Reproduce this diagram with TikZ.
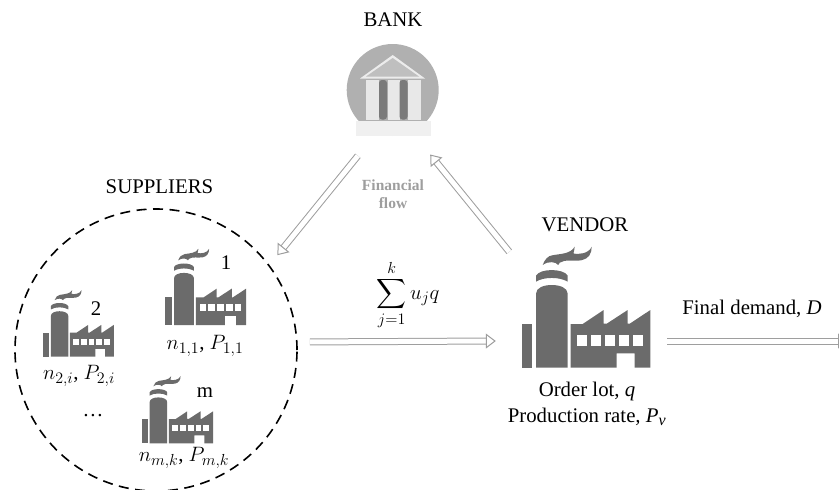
\documentclass[tikz,border=0pt]{standalone}
\usepackage{fix-cm}
\usepackage{amsmath}
\usepackage{exscale}
\usepackage{fontspec}
\setmainfont{Liberation Serif}
\DeclareMathSizes{20.8}{20.8}{16}{11}
\usetikzlibrary{arrows.meta,positioning,calc}
\definecolor{icongray}{gray}{0.42}
\definecolor{flowgray}{gray}{0.62}
\tikzset{
factory/.pic={
\fill[icongray] (0,0) rectangle (10.7,-43.7);
\fill[icongray] (14.3,0) -- (14.3,-74) .. controls (14.3,-80) and (22,-82.7) .. (30,-82.7) .. controls (38,-82.7) and (46,-80) .. (46,-74) -- (46,0) -- cycle;
\fill[icongray] (14.3,-86) .. controls (22,-91) and (38,-91) .. (46,-86) -- (46,-92) .. controls (42,-99.5) and (18,-99.5) .. (14.3,-92) -- cycle;
\fill[icongray] (21,-102.7) .. controls (23,-108) and (26,-112) .. (31,-112.5) .. controls (40,-114) and (49,-114) .. (53,-121) .. controls (53,-118) and (52,-116) .. (51.7,-114.3) .. controls (57,-113) and (67,-114) .. (70,-121) .. controls (70,-114) and (67,-109) .. (60,-107.5) .. controls (52,-106) and (44,-109) .. (38,-105) -- (36.5,-102.7) .. controls (34,-106) and (27,-107) .. (21,-102.7) -- cycle;
\fill[icongray] (49,0) -- (49,-43.7) -- (61,-43.7) -- (82,-57.7) -- (82,-44) -- (85,-44) -- (106,-57.7) -- (106,-44) -- (108,-44) -- (128.7,-57.7) -- (128.7,0) -- (113,0) -- (113,-14.3) -- (95,-14.3) -- (95,0) -- cycle;
\foreach \wx in {55,69,83,97,111}
  \fill[white] (\wx,-22) rectangle ++(10.4,-10.7);
}}
\begin{document}
\begin{tikzpicture}[x=1pt, y=-1pt, >=Stealth, font=\fontsize{20.8}{24}\selectfont]
\tikzstyle{flow}=[double=white, draw=flowgray, line width=1pt, double distance=5pt, -{Triangle[open, fill=white, length=10pt, width=15pt, line width=1pt]}]
\tikzstyle{lbl}=[inner sep=0pt, text=black]
\useasboundingbox (0,0) rectangle (839,490);

\node[circle, minimum size=140pt, inner sep=0pt]  (bank)      at (393,95)  {};
\node[circle, draw, dashed, line width=1.6pt, dash pattern=on 10pt off 6.5pt, minimum size=282pt, inner sep=0pt, outer sep=13pt] (suppliers) at (156,350) {};
\node[minimum width=171pt, minimum height=178pt, inner sep=0pt] (vendor) at (581.5,341) {};
\coordinate (demand) at (848,341);

\fill[gray!62] (392.7,90) circle[radius=46];
\fill[gray!12] (356,120.5) rectangle (431,136);
\fill[gray!15] (360,78.5) -- (392.7,55) -- (425,78.5) -- cycle;
\fill[gray!50] (366,76.5) -- (392.7,58) -- (419,76.5) -- cycle;
\foreach \cx in {366,387.5,408}
  \fill[gray!18] (\cx,80) rectangle ++(12.5,39.5);
\fill[icongray!90, rounded corners=3pt] (379,80) rectangle (387,119.5);
\fill[icongray!90, rounded corners=3pt] (399.5,80) rectangle (407.5,119.5);

\pic at (521.7,367.7) {factory};
\pic[scale=.63]  at (165,325)   {factory};
\pic[scale=.55]  at (43,356.7)  {factory};
\pic[scale=.555] at (141.7,443.3) {factory};

\node[lbl] (banklbl)  at (393,20)  {BANK};
\node[lbl] (supplbl)  at (159.5,187) {SUPPLIERS};
\node[lbl] (vendlbl)  at (585,225) {VENDOR};
\node[lbl, text=flowgray, align=center, font=\fontsize{15.5}{18}\selectfont\bfseries] (fin) at (393,194) {Financial\\flow};
\node[lbl] (sum)      at (408,295) {$\displaystyle\sum_{j=1}^{k} u_j q$};
\node[lbl] (finaldem) at (752,309) {Final demand, \textit{D}};
\node[lbl] (vlot)     at (587,391) {Order lot, \textit{q}};
\node[lbl] (vrate)    [below of=vlot, node distance=25.5pt] {Production rate\textit{, P\textsubscript{v}}};
\node[lbl] (one)      at (226,263) {1};
\node[lbl] (two)      at (96,309)  {2};
\node[lbl] (emm)      at (205,393) {m};
\node[lbl] (p11)      at (205,346) {$n_{1,1}$, $P_{1,1}$};
\node[lbl] (p2i)      at (79,376)  {$n_{2,i}$, $P_{2,i}$};
\node[lbl] (pmk)      at (184,458) {$n_{m,k}$, $P_{m,k}$};
\node[lbl] (dots)     at (93,416)  {\dots};

\path
(bank.240) edge[flow] (suppliers.38)
(vendor.129) edge[flow] (bank.302)
(suppliers.3) edge[flow] (vendor.west)
(vendor.east) edge[flow] (demand);
\end{tikzpicture}
\end{document}
